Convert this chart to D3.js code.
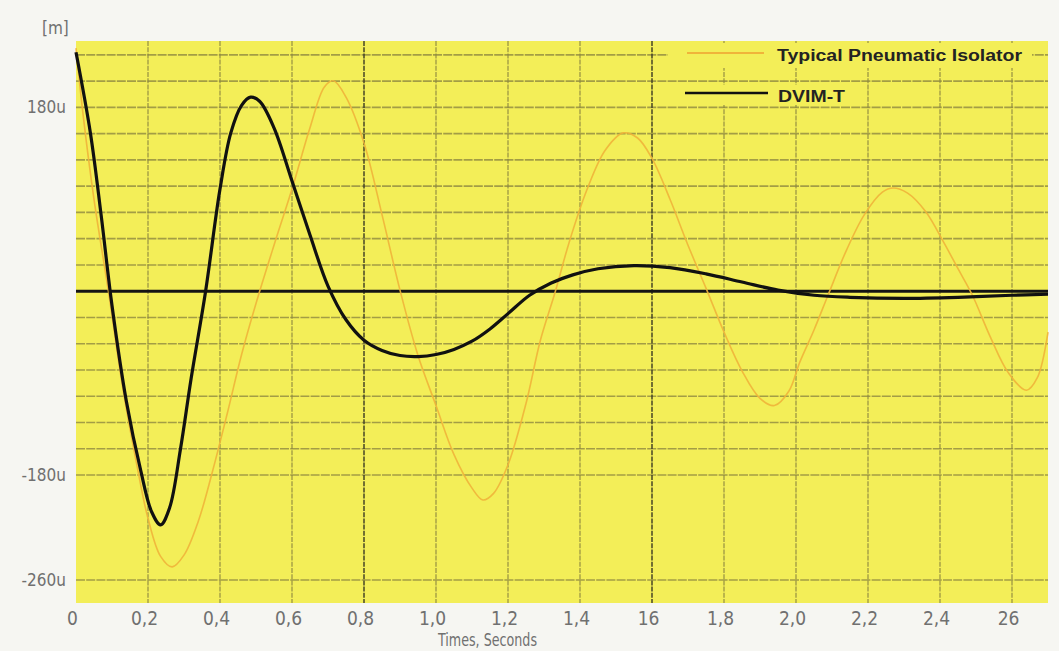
<!DOCTYPE html>
<html>
<head>
<meta charset="utf-8">
<script src="https://cdn.jsdelivr.net/npm/d3@7/dist/d3.min.js"></script>
<style>
  html, body { margin: 0; padding: 0; background: #f6f6f2; }
  svg { display: block; }
  .lbl { font-family: "Liberation Sans Narrow", "DejaVu Sans Condensed", "Roboto Condensed", sans-serif; fill: #707070; font-weight: 400; }
</style>
</head>
<body>
<svg id="chart" width="1059" height="651"></svg>
<script>
// ---- Data ----
const xTicks = [0, 0.2, 0.4, 0.6, 0.8, 1.0, 1.2, 1.4, 1.6, 1.8, 2.0, 2.2, 2.4, 2.6];
const xTickLabels = ["0", "0,2", "0,4", "0,6", "0,8", "1,0", "1,2", "1,4", "16", "1,8", "2,0", "2,2", "2,4", "26"];
const yTicks = [180, -180, -260];
const yTickLabels = ["180u", "-180u", "-260u"];
const seriesNames = ["Typical Pneumatic Isolator", "DVIM-T"];

// Typical Pneumatic Isolator (time s, displacement u)
const pneuT = [0, 0.02, 0.05, 0.09, 0.13, 0.17, 0.2, 0.235, 0.267, 0.3, 0.34, 0.378, 0.42, 0.46, 0.5, 0.55, 0.6, 0.65, 0.69, 0.715, 0.75, 0.8, 0.85, 0.9, 0.95, 1.0, 1.05, 1.1, 1.13, 1.16, 1.2, 1.25, 1.29, 1.33, 1.37, 1.42, 1.47, 1.52, 1.56, 1.6, 1.65, 1.7, 1.75, 1.8, 1.85, 1.9, 1.94, 1.98, 2.01, 2.05, 2.09, 2.14, 2.19, 2.24, 2.27, 2.31, 2.36, 2.41, 2.45, 2.49, 2.54, 2.59, 2.64, 2.67, 2.7];
const pneuV = [238, 172, 90, 0, -95, -172, -213, -242, -250, -241, -215, -178, -120, -62, -12, 45, 100, 160, 200, 206, 190, 145, 75, 1, -63, -112, -160, -190, -199, -194, -170, -110, -48, -2, 48, 100, 138, 155, 150, 130, 90, 45, 3, -40, -78, -105, -112, -98, -70, -38, -3, 40, 75, 97, 101, 96, 78, 48, 22, -4, -45, -80, -97, -85, -40];

// DVIM-T
const dvimT = [0, 0.04, 0.07, 0.1, 0.14, 0.18, 0.21, 0.235, 0.26, 0.29, 0.32, 0.36, 0.4, 0.43, 0.46, 0.485, 0.51, 0.55, 0.6, 0.65, 0.7, 0.75, 0.8, 0.85, 0.9, 0.95, 1.0, 1.05, 1.1, 1.15, 1.2, 1.26, 1.32, 1.38, 1.45, 1.55, 1.65, 1.75, 1.85, 1.95, 2.05, 2.15, 2.3, 2.45, 2.6, 2.7];
const dvimV = [234, 155, 74, -14, -108, -176, -208, -218, -205, -155, -85, 0, 100, 155, 182, 190, 186, 160, 108, 55, 5, -28, -48, -58, -63, -64, -62, -57, -49, -37, -22, -4, 8, 16, 22, 25, 23, 17, 9, 1, -4, -6, -7, -6, -4, -3];

// ---- Layout ----
const svg = d3.select("#chart");
const plot = { left: 76, right: 1048, top: 41, bottom: 603 };

const x = d3.scaleLinear().domain([0, 2.7]).range([plot.left, plot.right]);
// the original axis is broken below -180u: piecewise linear scale
const y = d3.scaleLinear().domain([-277.5, -180, 245]).range([plot.bottom, 475, plot.top]);

const bg = "#f3ee58";
svg.append("rect").attr("x", plot.left).attr("y", plot.top)
  .attr("width", plot.right - plot.left).attr("height", plot.bottom - plot.top)
  .attr("fill", bg);

// horizontal grid: fine steps above -180u, then the -260u line
const gridY = d3.range(-7, 10).map(k => k * 180 / 7).concat([-260]);
svg.append("g").selectAll("line").data(gridY).join("line")
  .attr("x1", plot.left).attr("x2", plot.right)
  .attr("y1", d => y(d)).attr("y2", d => y(d))
  .attr("stroke", "#969042").attr("stroke-width", 1.6)
  .attr("stroke-dasharray", "9,1.2").attr("opacity", 0.85);

// vertical grid
const isMajor = d => Math.abs(d - 0.8) < 1e-9 || Math.abs(d - 1.6) < 1e-9;
const gridX = xTicks.filter(d => d > 0);
svg.append("g").selectAll("line").data(gridX).join("line")
  .attr("x1", d => x(d)).attr("x2", d => x(d))
  .attr("y1", plot.top).attr("y2", plot.bottom)
  .attr("stroke", d => isMajor(d) ? "#3a3a22" : "#8c8840")
  .attr("stroke-width", d => isMajor(d) ? 1.4 : 1.1)
  .attr("stroke-dasharray", "5,1.2");

// legend patches hiding the grid
svg.append("rect").attr("x", 668).attr("y", 43).attr("width", 364).attr("height", 25).attr("fill", bg);
svg.append("rect").attr("x", 680).attr("y", 85).attr("width", 170).attr("height", 20).attr("fill", bg);

// zero reference line
svg.append("line").attr("x1", plot.left).attr("x2", plot.right)
  .attr("y1", y(0)).attr("y2", y(0))
  .attr("stroke", "#141414").attr("stroke-width", 3);

const line = d3.line().curve(d3.curveCatmullRom.alpha(0.5));

svg.append("path")
  .attr("d", line(pneuT.map((t, i) => [x(t), y(pneuV[i])])))
  .attr("fill", "none").attr("stroke", "#f0b43a").attr("stroke-width", 1.6).attr("opacity", 0.9);

svg.append("path")
  .attr("d", line(dvimT.map((t, i) => [x(t), y(dvimV[i])])))
  .attr("fill", "none").attr("stroke", "#111").attr("stroke-width", 3.2)
  .attr("stroke-linejoin", "round");

// axes
const xAxis = d3.axisBottom(x).tickValues(xTicks).tickSize(0)
  .tickFormat((d, i) => xTickLabels[i]);
const gx = svg.append("g").attr("transform", `translate(-4,${plot.bottom + 5})`).call(xAxis);
gx.select(".domain").remove();
gx.selectAll("text").attr("class", "lbl").style("font-size", "19px").attr("fill", null);

const yAxis = d3.axisLeft(y).tickValues(yTicks).tickSize(0)
  .tickFormat((d, i) => yTickLabels[i]);
const gy = svg.append("g").attr("transform", `translate(${plot.left - 7},0)`).call(yAxis);
gy.select(".domain").remove();
gy.selectAll("text").attr("class", "lbl").style("font-size", "17px").attr("fill", null);

svg.append("text").attr("class", "lbl").attr("x", 42).attr("y", 34)
  .style("font-size", "17px").text("[m]");
svg.append("text").attr("class", "lbl").attr("x", 438).attr("y", 646)
  .style("font-size", "18px").attr("textLength", 99).attr("lengthAdjust", "spacingAndGlyphs")
  .text("Times, Seconds");

// legend
svg.append("line").attr("x1", 687).attr("x2", 764).attr("y1", 53).attr("y2", 53)
  .attr("stroke", "#f0b43a").attr("stroke-width", 2);
svg.append("text").attr("x", 777).attr("y", 61)
  .attr("font-family", "Liberation Sans, Arial, sans-serif").attr("font-weight", "bold")
  .attr("font-size", 16).attr("fill", "#232323")
  .attr("textLength", 245).attr("lengthAdjust", "spacingAndGlyphs")
  .text(seriesNames[0]);
svg.append("line").attr("x1", 685).attr("x2", 768).attr("y1", 93).attr("y2", 93)
  .attr("stroke", "#111").attr("stroke-width", 2.5);
svg.append("text").attr("x", 778).attr("y", 102)
  .attr("font-family", "Liberation Sans, Arial, sans-serif").attr("font-weight", "bold")
  .attr("font-size", 16).attr("fill", "#232323")
  .attr("textLength", 67).attr("lengthAdjust", "spacingAndGlyphs")
  .text(seriesNames[1]);
</script>
</body>
</html>
